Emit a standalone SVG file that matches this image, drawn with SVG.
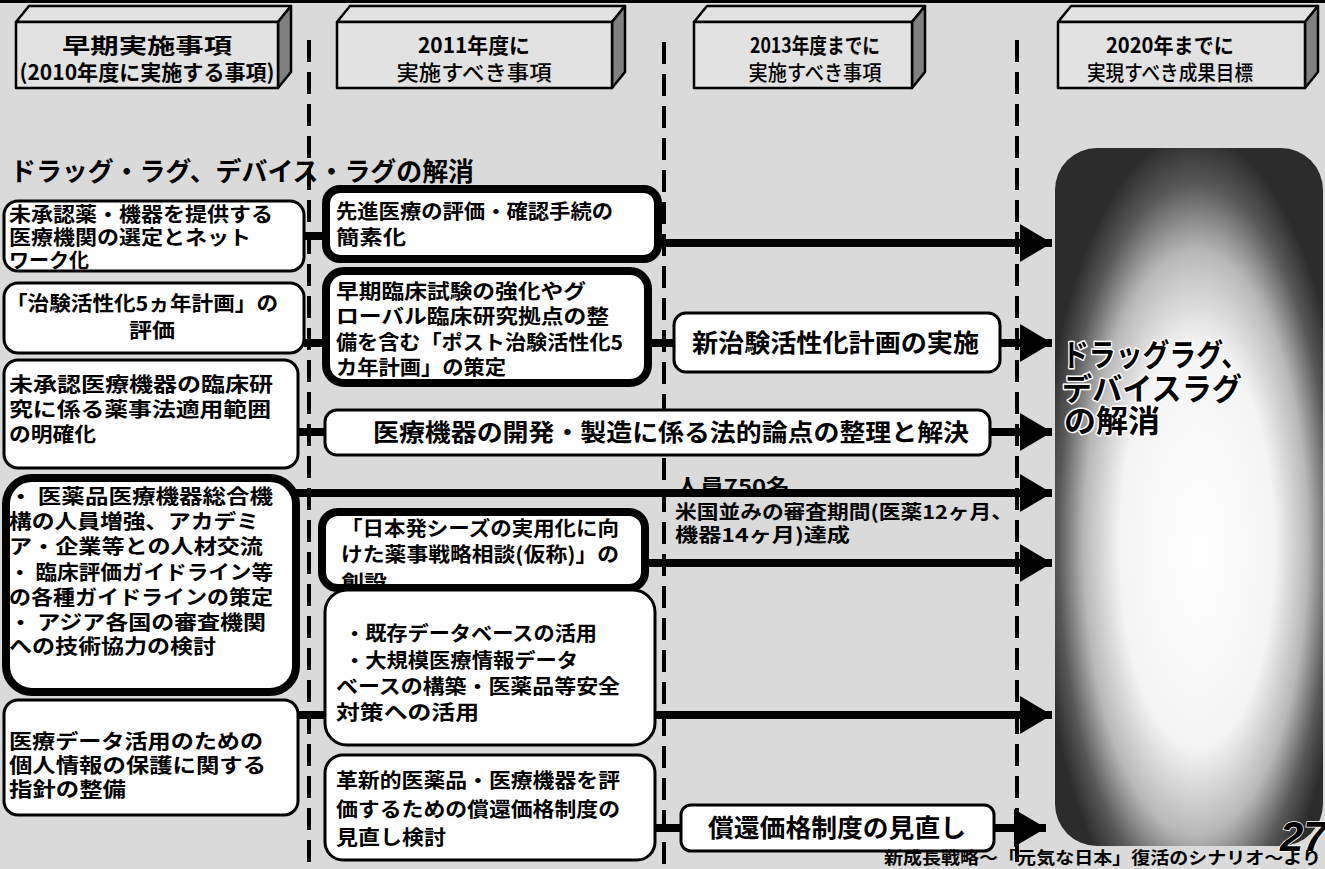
<svg xmlns="http://www.w3.org/2000/svg" width="1325" height="869" viewBox="0 0 1325 869">
<defs>
<style>
.bg{fill:#dadada}
.hf{fill:#e2e2e2;stroke:#000;stroke-width:2.5;stroke-linejoin:round}
.hs{fill:#808080;stroke:#000;stroke-width:2.5;stroke-linejoin:round}
.box{fill:#fff;stroke:#000;stroke-width:3}
.tbox{fill:#fff;stroke:#000;stroke-width:8}
.j{font-family:"Noto Sans CJK JP",sans-serif;font-weight:700;fill:#000}
.jn{font-family:"Noto Sans CJK JP",sans-serif;font-weight:500;fill:#000}
.s21{font-size:20px}
.dash{stroke:#000;stroke-width:4;stroke-dasharray:22 10;fill:none}
.con{stroke:#000;stroke-width:8;fill:none}
.arr{stroke:#000;stroke-width:8;fill:none;marker-end:url(#ah)}
.halo{stroke:#fff;stroke-width:3;paint-order:stroke;stroke-linejoin:round}
</style>
<marker id="ah" markerUnits="userSpaceOnUse" markerWidth="32" markerHeight="38" refX="32" refY="19" orient="auto">
<path d="M0,0 L32,19 L0,38 Z" fill="#000"/>
</marker>
<radialGradient id="goal" cx="0.52" cy="0.56" r="0.58" fx="0.54" fy="0.58">
<stop offset="0" stop-color="#ffffff"/>
<stop offset="0.5" stop-color="#f4f4f4"/>
<stop offset="0.72" stop-color="#b8b8b8"/>
<stop offset="0.88" stop-color="#585858"/>
<stop offset="1" stop-color="#2c2c2c"/>
</radialGradient>
<clipPath id="clipI"><rect x="326" y="516" width="315" height="68" rx="14"/></clipPath>
</defs>

<rect class="bg" x="0" y="0" width="1325" height="869"/>
<rect x="0" y="0" width="1325" height="3" fill="#000"/>

<!-- header boxes -->
<g id="h1">
<path class="hf" d="M16,22 L29,6 L291,6 L278,22 Z"/>
<path class="hs" d="M278,22 L291,6 L291,72 L278,88 Z"/>
<rect class="hf" x="16" y="22" width="262" height="66"/>
<text class="j" x="147" y="53" font-size="21" text-anchor="middle" textLength="170" lengthAdjust="spacingAndGlyphs">早期実施事項</text>
<text class="j" x="147" y="80" font-size="21" text-anchor="middle" textLength="255" lengthAdjust="spacingAndGlyphs">(2010年度に実施する事項)</text>
</g>
<g id="h2">
<path class="hf" d="M337,22 L350,6 L625,6 L612,22 Z"/>
<path class="hs" d="M612,22 L625,6 L625,72 L612,88 Z"/>
<rect class="hf" x="337" y="22" width="275" height="66"/>
<text class="j" x="474" y="53" font-size="21" text-anchor="middle" textLength="112" lengthAdjust="spacingAndGlyphs">2011年度に</text>
<text class="jn" x="474" y="80" font-size="21" text-anchor="middle" textLength="155" lengthAdjust="spacingAndGlyphs">実施すべき事項</text>
</g>
<g id="h3">
<path class="hf" d="M694,22 L707,6 L925,6 L912,22 Z"/>
<path class="hs" d="M912,22 L925,6 L925,72 L912,88 Z"/>
<rect class="hf" x="694" y="22" width="218" height="66"/>
<text class="j" x="815" y="53" font-size="21" text-anchor="middle" textLength="130" lengthAdjust="spacingAndGlyphs">2013年度までに</text>
<text class="jn" x="815" y="80" font-size="21" text-anchor="middle" textLength="133" lengthAdjust="spacingAndGlyphs">実施すべき事項</text>
</g>
<g id="h4">
<path class="hf" d="M1058,22 L1071,6 L1318,6 L1305,22 Z"/>
<path class="hs" d="M1305,22 L1318,6 L1318,72 L1305,88 Z"/>
<rect class="hf" x="1058" y="22" width="247" height="66"/>
<text class="j" x="1170" y="53" font-size="21" text-anchor="middle" textLength="128" lengthAdjust="spacingAndGlyphs">2020年までに</text>
<text class="jn" x="1170" y="80" font-size="21" text-anchor="middle" textLength="166" lengthAdjust="spacingAndGlyphs">実現すべき成果目標</text>
</g>

<!-- dashed column separators -->
<g id="separators">
<line class="dash" x1="309" y1="40" x2="309" y2="869"/>
<line class="dash" x1="664" y1="42" x2="664" y2="869"/>
<line class="dash" x1="1017" y1="40" x2="1017" y2="869"/>
</g>

<text id="title" class="j" x="10" y="181" font-size="26" textLength="464" lengthAdjust="spacingAndGlyphs">ドラッグ・ラグ、デバイス・ラグの解消</text>

<!-- goal box -->
<g id="goal-box">
<rect x="1055" y="148" width="268" height="698" rx="42" fill="url(#goal)"/>
<g class="j halo" font-size="31">
<text x="1062" y="366" textLength="186" lengthAdjust="spacingAndGlyphs">ドラッグラグ、</text>
<text x="1062" y="400" textLength="180" lengthAdjust="spacingAndGlyphs">デバイスラグ</text>
<text x="1064" y="432" textLength="96" lengthAdjust="spacingAndGlyphs">の解消</text>
</g>
</g>

<!-- connectors -->
<g id="connectors">
<line class="con" x1="304" y1="236" x2="326" y2="236"/>
<line class="arr" x1="660" y1="243" x2="1052" y2="243"/>
<line class="con" x1="304" y1="343" x2="326" y2="343"/>
<line class="con" x1="648" y1="343" x2="675" y2="343"/>
<line class="arr" x1="998" y1="343" x2="1052" y2="343"/>
<line class="con" x1="296" y1="432" x2="326" y2="432"/>
<line class="arr" x1="988" y1="432" x2="1052" y2="432"/>
<line class="arr" x1="643" y1="563" x2="1052" y2="563"/>
<line class="con" x1="296" y1="715" x2="326" y2="715"/>
<line class="arr" x1="653" y1="715" x2="1052" y2="715"/>
<line class="con" x1="653" y1="828" x2="682" y2="828"/>
<line class="arr" x1="993" y1="828" x2="1046" y2="828"/>
</g>

<!-- labels by the D arrow -->
<g id="labels">
<text class="j" x="676" y="494" font-size="20" textLength="114" lengthAdjust="spacingAndGlyphs">人員750名</text>
<text class="j" x="675" y="519" font-size="19" textLength="338" lengthAdjust="spacingAndGlyphs">米国並みの審査期間(医薬12ヶ月、</text>
<text class="j" x="675" y="542" font-size="19" textLength="175" lengthAdjust="spacingAndGlyphs">機器14ヶ月)達成</text>
</g>
<line class="arr" x1="296" y1="493" x2="1052" y2="493"/>

<!-- left column -->
<g id="nA">
<rect class="box" x="4" y="201" width="300" height="70" rx="14"/>
<g class="j s21">
<text x="9" y="222" textLength="264" lengthAdjust="spacingAndGlyphs">未承認薬・機器を提供する</text>
<text x="9" y="245" textLength="242" lengthAdjust="spacingAndGlyphs">医療機関の選定とネット</text>
<text x="9" y="268" textLength="80" lengthAdjust="spacingAndGlyphs">ワーク化</text>
</g>
</g>
<g id="nB">
<rect class="box" x="4" y="283" width="300" height="70" rx="14"/>
<g class="j s21">
<text x="6" y="311" textLength="272" lengthAdjust="spacingAndGlyphs">「治験活性化5ヵ年計画」の</text>
<text x="152" y="338" text-anchor="middle" textLength="46" lengthAdjust="spacingAndGlyphs">評価</text>
</g>
</g>
<g id="nC">
<rect class="box" x="4" y="360" width="294" height="108" rx="14"/>
<g class="j s21">
<text x="9" y="392" textLength="264" lengthAdjust="spacingAndGlyphs">未承認医療機器の臨床研</text>
<text x="9" y="417" textLength="262" lengthAdjust="spacingAndGlyphs">究に係る薬事法適用範囲</text>
<text x="9" y="442" textLength="87" lengthAdjust="spacingAndGlyphs">の明確化</text>
</g>
</g>
<g id="nD">
<rect class="tbox" x="6" y="478" width="290" height="214" rx="26"/>
<g class="j s21">
<text x="9" y="504" textLength="264" lengthAdjust="spacingAndGlyphs">・ 医薬品医療機器総合機</text>
<text x="9" y="529" textLength="250" lengthAdjust="spacingAndGlyphs">構の人員増強、アカデミ</text>
<text x="9" y="554" textLength="254" lengthAdjust="spacingAndGlyphs">ア・企業等との人材交流</text>
<text x="9" y="580" textLength="264" lengthAdjust="spacingAndGlyphs">・ 臨床評価ガイドライン等</text>
<text x="9" y="605" textLength="264" lengthAdjust="spacingAndGlyphs">の各種ガイドラインの策定</text>
<text x="9" y="630" textLength="257" lengthAdjust="spacingAndGlyphs">・ アジア各国の審査機関</text>
<text x="9" y="654" textLength="207" lengthAdjust="spacingAndGlyphs">への技術協力の検討</text>
</g>
</g>
<g id="nE">
<rect class="box" x="4" y="700" width="294" height="115" rx="14"/>
<g class="j s21">
<text x="9" y="749" textLength="254" lengthAdjust="spacingAndGlyphs">医療データ活用のための</text>
<text x="9" y="773" textLength="257" lengthAdjust="spacingAndGlyphs">個人情報の保護に関する</text>
<text x="9" y="797" textLength="117" lengthAdjust="spacingAndGlyphs">指針の整備</text>
</g>
</g>

<!-- middle column -->
<g id="nF">
<rect class="tbox" x="326" y="189" width="332" height="70" rx="14"/>
<g class="j s21">
<text x="336" y="219" textLength="277" lengthAdjust="spacingAndGlyphs">先進医療の評価・確認手続の</text>
<text x="336" y="245" textLength="70" lengthAdjust="spacingAndGlyphs">簡素化</text>
</g>
</g>
<g id="nG">
<rect class="tbox" x="326" y="271" width="322" height="112" rx="18"/>
<g class="j s21">
<text x="336" y="299" textLength="250" lengthAdjust="spacingAndGlyphs">早期臨床試験の強化やグ</text>
<text x="336" y="324" textLength="273" lengthAdjust="spacingAndGlyphs">ローバル臨床研究拠点の整</text>
<text x="336" y="350" textLength="287" lengthAdjust="spacingAndGlyphs">備を含む「ポスト治験活性化5</text>
<text x="336" y="375" textLength="170" lengthAdjust="spacingAndGlyphs">カ年計画」の策定</text>
</g>
</g>
<g id="nH">
<rect class="box" x="325" y="410" width="665" height="45" rx="12"/>
<text class="j" x="373" y="441" font-size="24" textLength="596" lengthAdjust="spacingAndGlyphs">医療機器の開発・製造に係る法的論点の整理と解決</text>
</g>
<g id="nI">
<rect class="tbox" x="322" y="512" width="323" height="76" rx="16"/>
<g class="j s21" clip-path="url(#clipI)">
<text x="341" y="536" textLength="278" lengthAdjust="spacingAndGlyphs">「日本発シーズの実用化に向</text>
<text x="341" y="562" textLength="278" lengthAdjust="spacingAndGlyphs">けた薬事戦略相談(仮称)」の</text>
<text x="341" y="590" textLength="46" lengthAdjust="spacingAndGlyphs">創設</text>
</g>
</g>
<g id="nJ">
<rect class="box" x="325" y="590" width="330" height="155" rx="22"/>
<g class="j s21">
<text x="344" y="641" textLength="253" lengthAdjust="spacingAndGlyphs">・既存データベースの活用</text>
<text x="344" y="668" textLength="234" lengthAdjust="spacingAndGlyphs">・大規模医療情報データ</text>
<text x="336" y="694" textLength="284" lengthAdjust="spacingAndGlyphs">ベースの構築・医薬品等安全</text>
<text x="336" y="720" textLength="143" lengthAdjust="spacingAndGlyphs">対策への活用</text>
</g>
</g>
<g id="nK">
<rect class="box" x="325" y="755" width="330" height="105" rx="18"/>
<g class="j s21">
<text x="336" y="788" textLength="284" lengthAdjust="spacingAndGlyphs">革新的医薬品・医療機器を評</text>
<text x="336" y="817" textLength="284" lengthAdjust="spacingAndGlyphs">価するための償還価格制度の</text>
<text x="336" y="845" textLength="110" lengthAdjust="spacingAndGlyphs">見直し検討</text>
</g>
</g>

<!-- third column -->
<g id="nL">
<rect class="box" x="674" y="313" width="326" height="59" rx="12"/>
<text class="j" x="692" y="352" font-size="25" textLength="287" lengthAdjust="spacingAndGlyphs">新治験活性化計画の実施</text>
</g>
<g id="nM">
<rect class="box" x="681" y="805" width="313" height="46" rx="10"/>
<text class="j" x="708" y="837" font-size="25" textLength="258" lengthAdjust="spacingAndGlyphs">償還価格制度の見直し</text>
</g>

<text id="page" x="1280" y="851" font-family="Liberation Sans, sans-serif" font-weight="700" font-style="italic" font-size="42" fill="#000" stroke="#fff" stroke-width="1.5" paint-order="stroke">27</text>
<text id="footer" class="j" x="884" y="864" font-size="17" textLength="437" lengthAdjust="spacingAndGlyphs">新成長戦略～「元気な日本」復活のシナリオ～より</text>
</svg>
